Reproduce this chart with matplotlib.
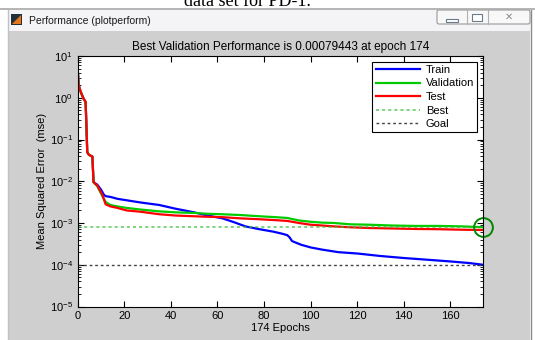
import numpy as np
import matplotlib
matplotlib.use("Agg")
import matplotlib.pyplot as plt
from matplotlib.patches import Rectangle, FancyBboxPatch, Polygon

plt.rcParams['font.family'] = ['Liberation Sans', 'DejaVu Sans']
plt.rcParams['mathtext.default'] = 'regular'

# shared start of all three curves (red is drawn on top)
early_ep = [0, 0.4, 1.3, 2.4, 3.4, 3.7, 4.1, 4.8, 6.3, 6.8]
early_mse = [5.0, 2.0, 1.38, 0.98, 0.79, 0.25, 0.050, 0.043, 0.039, 0.0095]

train_ep = [8.4, 10, 11.3, 12, 14.2, 17, 21, 27, 35, 42, 50, 56, 62, 67, 72, 78, 84, 88,
            90, 91, 92, 93, 96, 100, 105, 112, 120, 130, 140, 150, 160, 168, 174]
train_mse = [0.0083, 0.0063, 0.0047, 0.0044, 0.0042, 0.0038, 0.0035, 0.0031, 0.0027, 0.0022,
             0.0018, 0.0015, 0.0013, 0.00105, 0.00083, 0.00071, 0.00062, 0.00055, 0.00051,
             0.00045, 0.00037, 0.00035, 0.00030, 0.00026, 0.00023, 0.00020, 0.000186,
             0.000162, 0.000145, 0.000132, 0.00012, 0.00011, 0.0001]

vt_ep = [8.4, 10.6, 12, 14, 17, 21, 27, 35, 42, 50, 56, 62, 70, 78, 85, 90, 95, 100, 105,
         110, 117, 125, 135, 145, 155, 165, 174]
val_mse = [0.0076, 0.0044, 0.0032, 0.0027, 0.0025, 0.0023, 0.0021, 0.0019, 0.0018, 0.00174,
           0.00166, 0.00162, 0.00155, 0.00145, 0.00138, 0.00132, 0.00115, 0.00107, 0.00102,
           0.00100, 0.00093, 0.00091, 0.00087, 0.00085, 0.00085, 0.00083, 0.00079443]
test_mse = [0.0079, 0.0047, 0.0028, 0.0025, 0.0023, 0.0020, 0.00186, 0.00162, 0.00151, 0.00145,
            0.00141, 0.00138, 0.00129, 0.00123, 0.00117, 0.00112, 0.00100, 0.00091, 0.00087,
            0.00083, 0.00079, 0.00076, 0.00074, 0.00072, 0.00071, 0.00069, 0.00068]

best_epoch = 174
best_perf = 0.00079443
goal = 1e-4
n_epochs = 174

fig = plt.figure(figsize=(5.35, 3.40), dpi=100)
fig.patch.set_facecolor('white')

# background axes in pixel coords (origin top-left) for the window chrome
bg = fig.add_axes([0, 0, 1, 1], zorder=-1)
bg.set_xlim(0, 535)
bg.set_ylim(340, 0)
bg.axis('off')

# caption text cut off at the top of the screenshot
bg.text(247, 6.5, "data set for PD-1.", family=['Liberation Serif', 'DejaVu Serif'],
        fontsize=13, ha='center', va='baseline', color='black')
bg.plot([0, 535], [8.5, 8.5], color='#a8a8a8', lw=1.2)

# window frame
bg.add_patch(Rectangle((8, 10), 522, 21, facecolor='#f4f4f6', edgecolor='none'))
bg.add_patch(Rectangle((8, 31), 522, 309, facecolor='#cfcfcf', edgecolor='none'))
bg.plot([530.5, 530.5], [10, 340], color='#8a8a8a', lw=1)
bg.plot([7.5, 7.5], [10, 340], color='#c0c0c8', lw=1)

# title bar icon + text
bg.add_patch(Rectangle((11, 14), 11, 11, facecolor='#20303a', edgecolor='none'))
bg.add_patch(Polygon([[12, 24], [21, 15], [21, 24]], closed=True, facecolor='#e8751a',
                     edgecolor='none'))
bg.text(29, 21, "Performance (plotperform)", fontsize=7.5, va='center', ha='left',
        color='#1a1a1a')

# window buttons
bg.add_patch(FancyBboxPatch((437, 10), 93, 14, boxstyle='round,pad=0,rounding_size=2',
                            facecolor='#f8f8f8', edgecolor='#9a9a9a', lw=0.8))
for xs in (467, 488):
    bg.plot([xs, xs], [10, 24], color='#b0b0b0', lw=0.8)
bg.add_patch(Rectangle((446, 19), 12, 2.5, facecolor='white', edgecolor='#6a7a8a', lw=0.8))
bg.add_patch(Rectangle((472, 13.5), 10, 7, facecolor='white', edgecolor='#6a7a8a', lw=0.8))
bg.text(509, 17, "\u2715", fontsize=7, ha='center', va='center', color='#8a8a8a',
        family=['DejaVu Sans'])

# main axes
W, H = 535.0, 340.0
ax = fig.add_axes([77.7 / W, 1 - 306.5 / H, (483 - 77.7) / W, (306.5 - 56) / H])
ax.set_facecolor('white')

ax.semilogy(early_ep + train_ep, early_mse + train_mse, color='#0000ff', lw=1.6, label='Train')
ax.semilogy(early_ep + vt_ep, early_mse + val_mse, color='#00cc00', lw=1.6, label='Validation')
ax.semilogy(early_ep + vt_ep, early_mse + test_mse, color='#ff0000', lw=1.6, label='Test')
ax.axhline(best_perf, color='#33bb33', lw=1.1, ls=(0, (2, 2)), label='Best', alpha=0.8)
ax.axhline(goal, color='#444444', lw=1.0, ls=(0, (2, 2)), label='Goal')
ax.plot([best_epoch], [best_perf], 'o', ms=13.5, mfc='none', mec='#008800', mew=1.4,
        clip_on=False)

ax.set_xlim(0, n_epochs)
ax.set_ylim(1e-5, 10)
ax.set_xticks([0, 20, 40, 60, 80, 100, 120, 140, 160])
ax.set_yticks([1e-5, 1e-4, 1e-3, 1e-2, 1e-1, 1, 10])
ax.tick_params(which='both', direction='in', top=True, right=True, labelsize=8)
ax.tick_params(which='major', length=4)
ax.tick_params(which='minor', length=2)
for s in ax.spines.values():
    s.set_linewidth(0.8)

ax.set_title("Best Validation Performance is %.8f at epoch %d" % (best_perf, best_epoch),
             fontsize=8.5, pad=4)
ax.set_xlabel("%d Epochs" % n_epochs, fontsize=8, labelpad=1)
ax.set_ylabel("Mean Squared Error  (mse)", fontsize=8, labelpad=2)

leg = ax.legend(loc='upper right', fontsize=8, fancybox=False, edgecolor='black',
                framealpha=1, handlelength=4.0, labelspacing=0.32, borderaxespad=0.5,
                borderpad=0.3, handletextpad=0.5)
leg.get_frame().set_linewidth(0.8)

fig.savefig('out.png', dpi=100, facecolor=fig.get_facecolor())
